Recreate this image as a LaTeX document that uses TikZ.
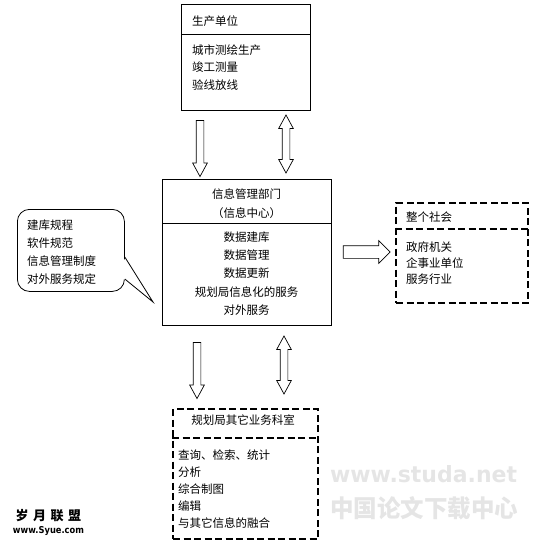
\documentclass[tikz,border=0pt]{standalone}
\usepackage{fontspec}
\usepackage{graphicx}
\setmainfont{Noto Sans CJK SC}
\newfontfamily\markfont{DejaVu Sans}
\usetikzlibrary{shapes.arrows}

\begin{document}
\begin{tikzpicture}[x=1pt, y=-1pt,
  font=\fontsize{11.5}{17.5}\selectfont,
  unit/.style={draw, line width=0.8pt, inner sep=0pt, anchor=north west},
  dashbox/.style={draw, line width=2pt, dash pattern=on 7pt off 3.5pt, inner sep=0pt, anchor=north west},
  item/.style={inner sep=0pt, align=left, anchor=west},
  downarrow/.style={draw, line width=0.7pt, single arrow, rotate=-90, minimum height=56pt, inner sep=3.5pt,
    single arrow head extend=3.5pt, single arrow tip angle=57},
  rightarrow/.style={draw, line width=0.7pt, single arrow, minimum height=47pt, inner sep=6pt,
    single arrow head extend=5pt},
  bothways/.style={draw, line width=0.7pt, double arrow, rotate=90, minimum height=58pt, inner sep=3.5pt,
    double arrow head extend=3.5pt, double arrow tip angle=57}
]
  \useasboundingbox (0,0) rectangle (542,543);

  % Production units
  \node[unit, minimum width=129pt, minimum height=106pt] (prod) at (181,4) {};
  \draw[line width=0.8pt] (prod.west |- 0,34) -- (prod.east |- 0,34);
  \node[item] (prodname) at (192,21) {生产单位};
  \node[item] (prodlist) at (192,67.5) {城市测绘生产\\竣工测量\\验线放线};

  % Information management department
  \node[unit, minimum width=169pt, minimum height=146pt] (dept) at (162,179) {};
  \draw[line width=0.8pt] (dept.west |- 0,223) -- (dept.east |- 0,223);
  \node[inner sep=0pt, align=center, font=\fontsize{11.5}{19}\selectfont] (deptname) at (246.5,203.5) {信息管理部门\\（信息中心）};
  \node[inner sep=0pt, align=center, font=\fontsize{11.5}{18.3}\selectfont] (deptlist) at (246.5,273.5)
    {数据建库\\数据管理\\数据更新\\规划局信息化的服务\\对外服务};

  % Rules callout
  \node[unit, rounded corners=12pt, minimum width=107pt, minimum height=82pt] (rules) at (17,209) {};
  \coordinate (tip) at (153,302);
  \fill[white] (123.2,257.5) -- (tip) -- (123.2,278.5) -- cycle;
  \draw[line width=0.8pt] (rules.east |- 0,257) -- (tip) -- (rules.east |- 0,279);
  \node[item, font=\fontsize{11.5}{18}\selectfont] (ruleslist) at (27,252) {建库规程\\软件规范\\信息管理制度\\对外服务规定};

  % Whole society
  \node[dashbox, minimum width=132pt, minimum height=100pt] (society) at (395,202) {};
  \draw[line width=1.6pt, dash pattern=on 7pt off 3.5pt] (society.west |- 0,229) -- (society.east |- 0,229);
  \node[item] (societyname) at (406,217) {整个社会};
  \node[item, font=\fontsize{11.5}{16}\selectfont] (societylist) at (406,263) {政府机关\\企事业单位\\服务行业};

  % Other business offices
  \node[dashbox, minimum width=145pt, minimum height=130pt] (office) at (172,408) {};
  \draw[line width=1.6pt, dash pattern=on 7pt off 3.5pt] (office.west |- 0,438) -- (office.east |- 0,438);
  \node[inner sep=0pt] (officename) at (243,420) {规划局其它业务科室};
  \node[item, font=\fontsize{11.5}{17}\selectfont] (officelist) at (178,489)
    {查询、检索、统计\\分析\\综合制图\\编辑\\与其它信息的融合};

  % Block arrows
  \node[downarrow] (prodin) at (200,145) {};
  \node[bothways] (prodlink) at (286,144) {};
  \node[rightarrow] (societyout) at (363.5,252) {};
  \node[downarrow] (officein) at (197,367) {};
  \node[bothways] (officelink) at (284,365) {};

  % Watermarks
  \node[inner sep=0pt, font=\bfseries\fontsize{13}{13}\selectfont] (mark1) at (48.5,516) {岁\hspace{4.5pt}月\hspace{4.5pt}联\hspace{4.5pt}盟};
  \node[inner sep=0pt] (mark2) at (48.5,531) {\resizebox{71pt}{7pt}{\markfont\bfseries www.Syue.com}};
  \node[inner sep=0pt, text=gray!20] (mark3) at (423.5,474) {\resizebox{187pt}{17pt}{\markfont\bfseries www.studa.net}};
  \node[inner sep=0pt, text=gray!20] (mark4) at (424,508) {\resizebox{188pt}{21pt}{\bfseries 中国论文下载中心}};

\end{tikzpicture}
\end{document}
